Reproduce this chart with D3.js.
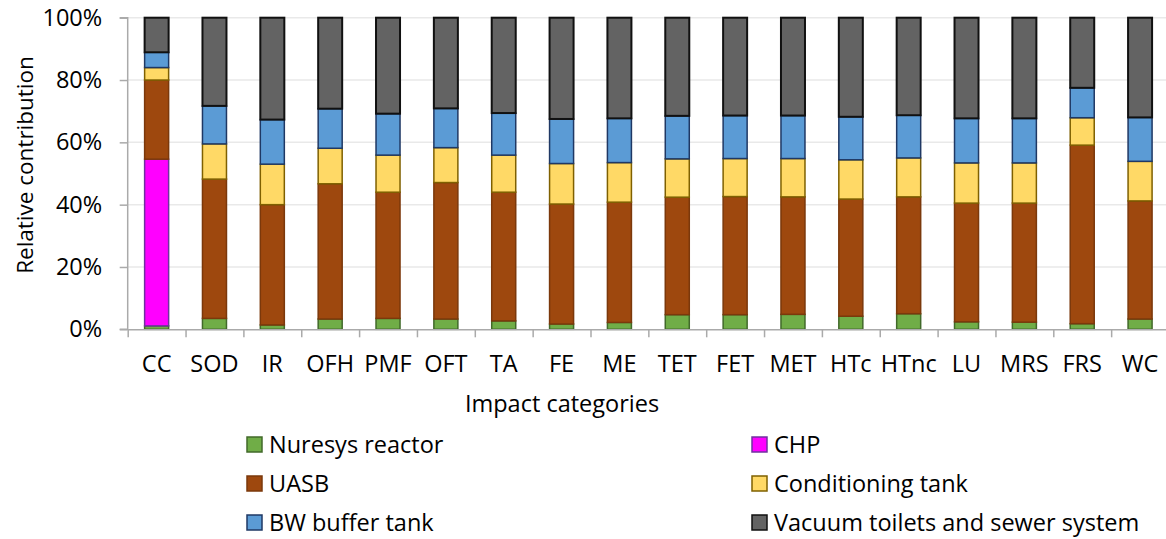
<!DOCTYPE html>
<html>
<head>
<meta charset="utf-8">
<script src="https://cdn.jsdelivr.net/npm/d3@7/dist/d3.min.js"></script>
<style>
  body { margin: 0; background: #fff; }
  svg text { font-family: "Open Sans", sans-serif; fill: #000; }
</style>
</head>
<body>
<svg id="chart" width="1166" height="539"></svg>
<script>
// Relative contribution per impact category (%)
var categories = ["CC", "SOD", "IR", "OFH", "PMF", "OFT", "TA", "FE", "ME",
                  "TET", "FET", "MET", "HTc", "HTnc", "LU", "MRS", "FRS", "WC"];
var nuresys     = [1.1, 3.5, 1.4, 3.3, 3.5, 3.3, 2.7, 1.7, 2.2, 4.7, 4.7, 4.8, 4.2, 5.0, 2.4, 2.3, 1.8, 3.3];
var chp         = [53.5, 0, 0, 0, 0, 0, 0, 0, 0, 0, 0, 0, 0, 0, 0, 0, 0, 0];
var uasb        = [25.4, 44.7, 38.6, 43.4, 40.5, 43.8, 41.3, 38.5, 38.6, 37.7, 37.9, 37.7, 37.6, 37.5, 38.1, 38.2, 57.3, 37.9];
var conditioning = [4.0, 11.3, 13.0, 11.4, 11.9, 11.2, 11.9, 13.0, 12.7, 12.3, 12.2, 12.3, 12.6, 12.5, 12.9, 12.9, 8.8, 12.7];
var bwBuffer    = [4.9, 12.2, 14.3, 12.7, 13.3, 12.6, 13.5, 14.3, 14.2, 13.8, 13.8, 13.8, 13.8, 13.7, 14.3, 14.3, 9.6, 14.1];
var vacuum      = [11.1, 28.3, 32.7, 29.2, 30.8, 29.1, 30.6, 32.5, 32.3, 31.5, 31.4, 31.4, 31.8, 31.3, 32.3, 32.3, 22.5, 32.0];
var seriesNames = ["Nuresys reactor", "CHP", "UASB", "Conditioning tank", "BW buffer tank", "Vacuum toilets and sewer system"];
var yTicks = [0, 20, 40, 60, 80, 100];

var fills   = ["#70ad47", "#ff00ff", "#9e480e", "#ffd966", "#5b9bd5", "#636363"];
var strokes = ["#41692a", "#7030a0", "#7b380b", "#7f6000", "#1f3864", "#111111"];
var strokeW = [1.5, 1.5, 1.5, 1.5, 1.5, 2];

var seriesVals = [nuresys, chp, uasb, conditioning, bwBuffer, vacuum];
var rows = categories.map(function(c, i) {
    var r = {cat: c};
    seriesNames.forEach(function(s, j) { r[s] = seriesVals[j][i]; });
    return r;
});

var margin = {left: 127.7, right: 1169, top: 17.7, bottom: 329.3};
var fontSize = 23.5;

var svg = d3.select("#chart");

var x = d3.scaleBand()
    .domain(categories)
    .range([margin.left, margin.right])
    .paddingInner(0.585)
    .paddingOuter(0.2925);

// band edges for the category tick marks
var xEdges = d3.scaleLinear()
    .domain([0, categories.length])
    .range([margin.left, margin.right]);

var y = d3.scaleLinear()
    .domain([0, 100])
    .range([margin.bottom, margin.top]);

// grid lines
svg.append("g")
    .selectAll("line")
    .data(yTicks.slice(1))
    .enter()
    .append("line")
      .attr("x1", margin.left)
      .attr("x2", margin.right)
      .attr("y1", function(d) { return y(d); })
      .attr("y2", function(d) { return y(d); })
      .style("stroke", "#e9e9e9")
      .style("stroke-width", "1.5px");

// stacked bars
var stacked = d3.stack().keys(seriesNames)(rows);

var layers = svg.append("g")
    .selectAll("g")
    .data(stacked)
    .enter()
    .append("g")
      .style("fill", function(d, i) { return fills[i]; })
      .style("stroke", function(d, i) { return strokes[i]; })
      .style("stroke-width", function(d, i) { return strokeW[i] + "px"; });

layers.selectAll("rect")
    .data(function(d) { return d.filter(function(p) { return p[1] - p[0] > 0; }); })
    .enter()
    .append("rect")
      .attr("x", function(d) { return x(d.data.cat); })
      .attr("y", function(d) { return y(d[1]); })
      .attr("width", x.bandwidth())
      .attr("height", function(d) { return y(d[0]) - y(d[1]); });

// y axis
var yAxis = d3.axisLeft(y)
    .tickValues(yTicks)
    .tickSize(8)
    .tickPadding(17.5)
    .tickFormat(function(d) { return d + "%"; });

var gy = svg.append("g")
    .attr("transform", "translate(" + margin.left + ",0)")
    .call(yAxis);
gy.selectAll("path, line").style("stroke", "#aaaaaa").style("stroke-width", "1.5px");
gy.select(".domain").attr("d", "M-8," + y(100) + "H0V" + y(0) + "H-8");
gy.selectAll("text").style("font-size", fontSize + "px").style("font-family", "Open Sans");

// x axis: tick marks at band edges
var xAxis = d3.axisBottom(xEdges)
    .tickValues(d3.range(categories.length + 1))
    .tickSize(8)
    .tickSizeOuter(0)
    .tickFormat("");

var gx = svg.append("g")
    .attr("transform", "translate(0," + margin.bottom + ")")
    .call(xAxis);
gx.selectAll("path, line").style("stroke", "#aaaaaa").style("stroke-width", "1.5px");

// category labels
var gl = svg.append("g")
    .attr("transform", "translate(0," + margin.bottom + ")")
    .call(d3.axisBottom(x).tickSize(0).tickPadding(26));
gl.select(".domain").remove();
gl.selectAll("text").style("font-size", fontSize + "px").style("font-family", "Open Sans");

// axis titles
svg.append("text")
    .attr("x", 562)
    .attr("y", 412)
    .attr("text-anchor", "middle")
    .style("font-size", fontSize + "px")
    .text("Impact categories");

svg.append("text")
    .attr("transform", "translate(33,165) rotate(-90)")
    .attr("text-anchor", "middle")
    .style("font-size", "22.5px")
    .text("Relative contribution");

// legend, two columns
var legendX = [247, 752];
var legendY = [453, 492, 531];

var legend = svg.append("g")
    .selectAll("g")
    .data(seriesNames)
    .enter()
    .append("g")
      .attr("transform", function(d, i) {
          return "translate(" + legendX[i % 2] + "," + legendY[Math.floor(i / 2)] + ")";
      });

legend.append("rect")
    .attr("x", 0)
    .attr("y", -16)
    .attr("width", 15)
    .attr("height", 15)
    .style("fill", function(d, i) { return fills[i]; })
    .style("stroke", function(d, i) { return strokes[i]; })
    .style("stroke-width", "1.5px");

legend.append("text")
    .attr("x", 22)
    .attr("y", 0)
    .style("font-size", fontSize + "px")
    .text(function(d) { return d; });
</script>
</body>
</html>
